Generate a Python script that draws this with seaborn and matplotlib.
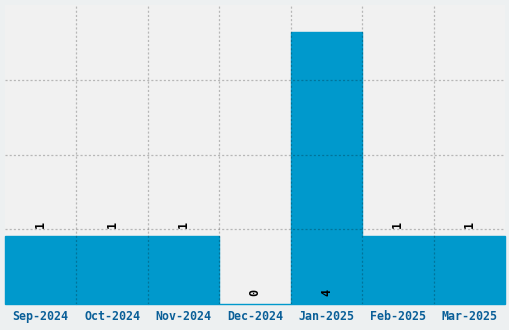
import matplotlib
matplotlib.use("Agg")
import matplotlib.pyplot as plt
import seaborn as sns
import pandas as pd
import numpy as np

months = ["Sep-2024", "Oct-2024", "Nov-2024", "Dec-2024", "Jan-2025", "Feb-2025", "Mar-2025"]
counts = [1, 1, 1, 0, 4, 1, 1]

df = pd.DataFrame({"month": months, "count": counts})

sns.set_style("white")
plt.rcParams["font.family"] = ["DejaVu Sans Mono"]
plt.rcParams["lines.scale_dashes"] = False

fig = plt.figure(figsize=(5.1, 3.3), dpi=100, facecolor="#edf0f1")
ax = fig.add_axes([5/510, 26/330, 500/510, 299/330])
ax.set_facecolor("#f1f1f1")

sns.barplot(data=df, x="month", y="count", color="#0099cc", saturation=1,
            width=1.0, ax=ax, edgecolor="#0099cc", linewidth=1.0)
for p in ax.patches:
    p.set_clip_on(False)

ymax = max(counts) * 1.1
ax.set_ylim(0, ymax)
ax.set_xlim(-0.5, len(months) - 0.5)

ax.set_yticks([ymax / 4, ymax / 2, 3 * ymax / 4])
ax.set_yticklabels([])
ax.set_xticks(np.arange(len(months) - 1) + 0.5, minor=True)
ax.grid(False)
grid_kw = dict(color="black", alpha=0.24, linestyle=(0, (1.5, 1.5)), linewidth=0.9, zorder=5)
ax.grid(True, which="minor", axis="x", **grid_kw)
ax.grid(True, which="major", axis="y", **grid_kw)
ax.set_axisbelow(False)
ax.tick_params(axis="both", which="both", length=0)
ax.tick_params(axis="x", pad=4)
for lab in ax.get_xticklabels():
    lab.set_fontweight("bold")
    lab.set_fontsize(8.4)
    lab.set_color("#0a5f98")
ax.set_xlabel("")
ax.set_ylabel("")
for s in ax.spines.values():
    s.set_visible(False)

top = max(counts)
for i, v in enumerate(counts):
    if v == top or v == 0:
        ax.annotate(str(v), (i, 0), xytext=(0, 8), textcoords="offset points",
                    ha="center", va="center", rotation=90, fontsize=8.4,
                    fontweight="bold", color="black", zorder=6)
    else:
        ax.annotate(str(v), (i, v), xytext=(0, 8.5), textcoords="offset points",
                    ha="center", va="center", rotation=90, fontsize=8.4,
                    fontweight="bold", color="black", zorder=6)

fig.savefig("out.png", dpi=100, facecolor=fig.get_facecolor())
